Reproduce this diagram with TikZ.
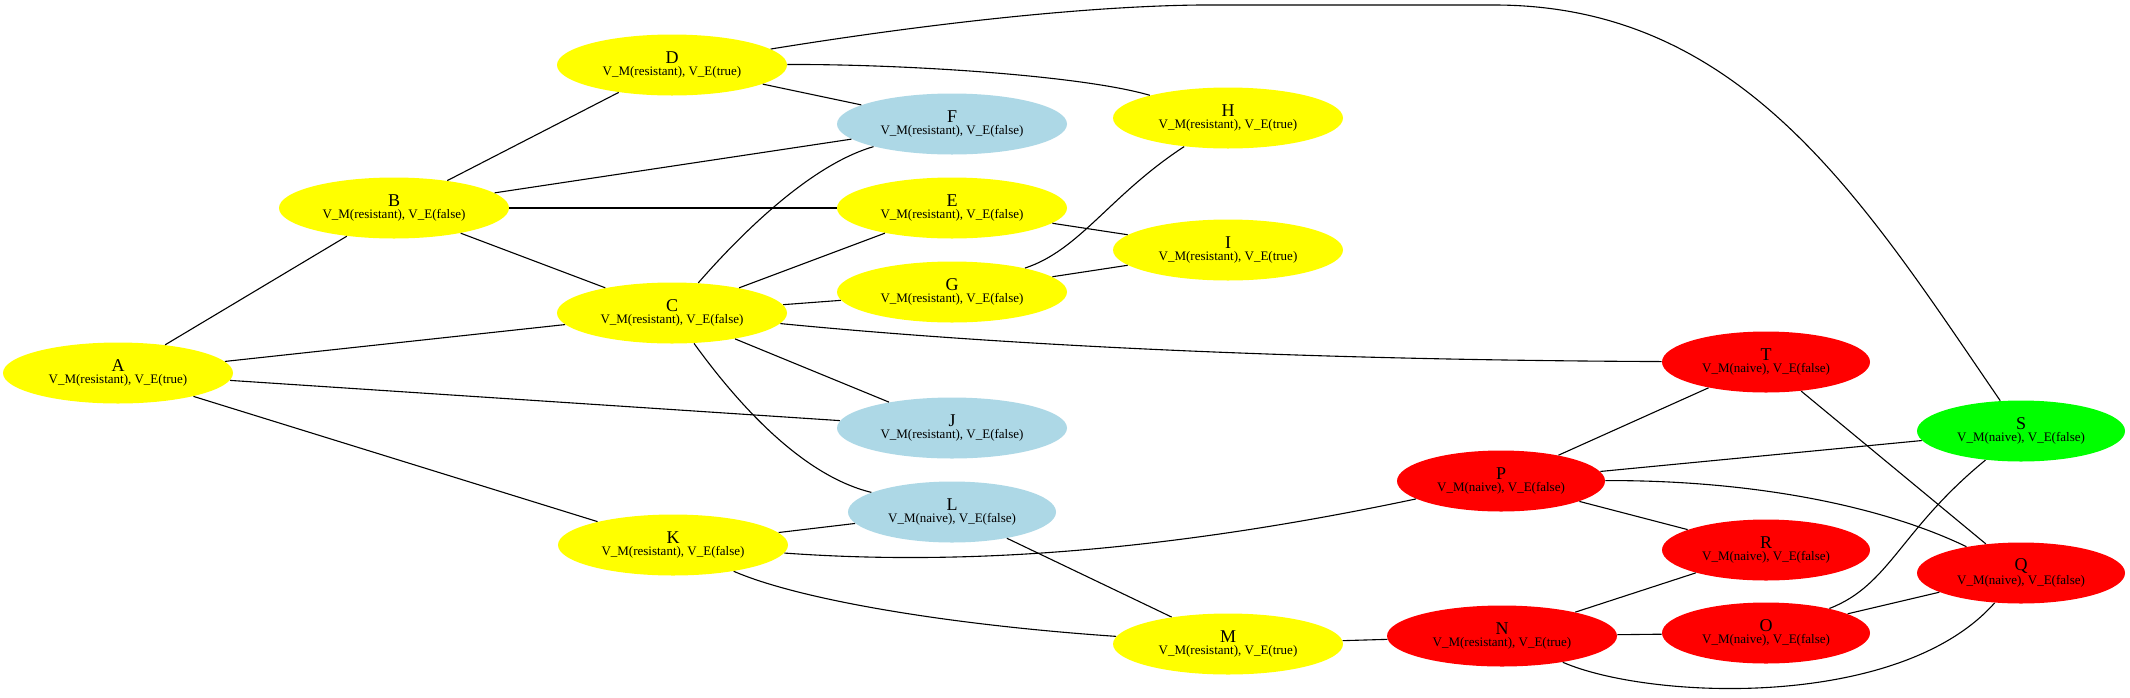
\documentclass[tikz,border=0pt]{standalone}
\usepackage{fontspec}
\setmainfont{Liberation Serif}
\usetikzlibrary{shapes.geometric}
\definecolor{gvyellow}{HTML}{FFFF00}
\definecolor{gvblue}{HTML}{ADD8E6}
\definecolor{gvred}{HTML}{FF0000}
\definecolor{gvgreen}{HTML}{00FF00}
\newcommand{\gvlab}[2]{{\fontsize{9}{6}\selectfont #1}\\#2}
\begin{document}
\begin{tikzpicture}[x=0.5pt,y=-0.5pt,
  gvnode/.style={ellipse, inner sep=0pt, minimum height=30.5pt, align=center,
    font=\fontsize{6.5}{6}\selectfont, text=black},
  resw/.style={gvnode, minimum width=115pt},
  naiw/.style={gvnode, minimum width=104pt},
  yel/.style={fill=gvyellow},
  blu/.style={fill=gvblue},
  rd/.style={fill=gvred},
  grn/.style={fill=gvgreen},
  gvedge/.style={draw=black, line width=0.55pt}]
\useasboundingbox (0,0) rectangle (2130,697);
\fill[white] (0,0) rectangle (2130,697);
% nodes
\node[resw,yel] (A) at (118,373) {\gvlab{A}{V\_M(resistant), V\_E(true)}};
\node[resw,yel] (B) at (394,208) {\gvlab{B}{V\_M(resistant), V\_E(false)}};
\node[resw,yel] (C) at (672,313) {\gvlab{C}{V\_M(resistant), V\_E(false)}};
\node[resw,yel] (D) at (672,65) {\gvlab{D}{V\_M(resistant), V\_E(true)}};
\node[resw,yel] (K) at (673,545) {\gvlab{K}{V\_M(resistant), V\_E(false)}};
\node[resw,blu] (F) at (952,124) {\gvlab{F}{V\_M(resistant), V\_E(false)}};
\node[resw,yel] (E) at (952,208) {\gvlab{E}{V\_M(resistant), V\_E(false)}};
\node[resw,yel] (G) at (952,292) {\gvlab{G}{V\_M(resistant), V\_E(false)}};
\node[resw,blu] (J) at (952,428) {\gvlab{J}{V\_M(resistant), V\_E(false)}};
\node[naiw,blu] (L) at (952,512) {\gvlab{L}{V\_M(naive), V\_E(false)}};
\node[resw,yel] (H) at (1228,118) {\gvlab{H}{V\_M(resistant), V\_E(true)}};
\node[resw,yel] (I) at (1228,250) {\gvlab{I}{V\_M(resistant), V\_E(true)}};
\node[resw,yel] (M) at (1228,644) {\gvlab{M}{V\_M(resistant), V\_E(true)}};
\node[naiw,rd] (P) at (1501,481) {\gvlab{P}{V\_M(naive), V\_E(false)}};
\node[resw,rd] (N) at (1502,636) {\gvlab{N}{V\_M(resistant), V\_E(true)}};
\node[naiw,rd] (T) at (1766,362) {\gvlab{T}{V\_M(naive), V\_E(false)}};
\node[naiw,rd] (R) at (1766,550) {\gvlab{R}{V\_M(naive), V\_E(false)}};
\node[naiw,rd] (O) at (1766,633) {\gvlab{O}{V\_M(naive), V\_E(false)}};
\node[naiw,grn] (S) at (2021,431) {\gvlab{S}{V\_M(naive), V\_E(false)}};
\node[naiw,rd] (Q) at (2021,573) {\gvlab{Q}{V\_M(naive), V\_E(false)}};
% straight edges
\foreach \u/\v in {A/B, A/C, A/J, A/K, B/D, B/F, B/E, B/C, D/F, C/E, C/G, C/J,
  E/I, G/I, K/L, L/M, M/N, N/R, N/O, P/T, P/S, P/R, T/Q, O/Q}
  \draw[gvedge] (\u) -- (\v);
% curved edges
\draw[gvedge] (C) .. controls (740,235) and (810,165) .. (F);
\draw[gvedge] (C) .. controls (735,400) and (800,475) .. (L);
\draw[gvedge] (G) .. controls (1080,250) and (1110,195) .. (H);
\draw[gvedge] (D) .. controls (900,64) and (1080,75) .. (H);
\draw[gvedge] (D) .. controls (950,20) and (1100,6) .. (1200,5) -- (1494,5)
  .. controls (1744,5) and (1864,202) .. (S);
\draw[gvedge] (C) .. controls (1000,345) and (1300,360) .. (T);
\draw[gvedge] (K) .. controls (950,565) and (1150,555) .. (P);
\draw[gvedge] (K) .. controls (800,600) and (950,625) .. (M);
\draw[gvedge] (N) .. controls (1650,700) and (1900,710) .. (Q);
\draw[gvedge] (P) .. controls (1750,480) and (1880,505) .. (Q);
\draw[gvedge] (O) .. controls (1890,585) and (1900,530) .. (S);
\end{tikzpicture}
\end{document}
